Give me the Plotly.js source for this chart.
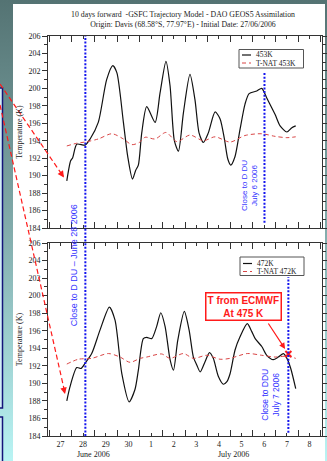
<!DOCTYPE html>
<html>
<head>
<meta charset="utf-8">
<script src="https://cdn.plot.ly/plotly-3.0.1.min.js"></script>
<style>
  html, body { margin: 0; padding: 0; }
  body { width: 327px; height: 461px; overflow: hidden;
         background: linear-gradient(to bottom, #547373 0%, #82acac 50%, #b9f4f4 100%); }
  #chart { width: 327px; height: 461px; }
</style>
</head>
<body>
<div id="chart"></div>
<script>
// ---- data (x = days since 27 June 2006 00:00) ----
const titleLine1 = "10 days forward  -GSFC Trajectory Model - DAO GEOS5 Assimilation";
const titleLine2 = "Origin: Davis (68.58°S, 77.97°E) - Initial Date: 27/06/2006";
const xTickLabels = ["27","28","29","30","1","2","3","4","5","6","7","8"];
const monthLabels = ["June 2006", "July 2006"];

const name453 = "453K";
const day453 = [0.78,0.95,1.04,1.22,1.59,1.81,2.17,2.54,2.81,2.99,3.28,3.47,3.68,3.82,3.94,4.09,4.31,4.68,4.90,5.16,5.34,5.53,5.71,5.93,6.22,6.44,6.62,6.81,7.03,7.33,7.55,7.74,7.89,8.02,8.21,8.43,8.65,8.83,9.17,9.39,9.61,9.98,10.20,10.50,10.72,10.89];
const temp453 = [189.4,191.7,192.05,193.6,193.5,194.2,196.1,201.0,202.6,201.8,196.1,192.2,189.6,190.6,191.2,194.9,197.9,196.1,199.5,203.1,200.3,194.0,192.8,197.2,201.6,198.7,194.9,193.8,194.9,197.3,196.5,194.2,191.9,191.2,192.2,195.3,198.2,199.4,199.7,200.0,198.9,197.0,195.7,195.0,195.5,195.7];

const nameNat453 = "T-NAT 453K";
const dayNat453 = [0.78,1.20,1.59,2.17,2.77,3.28,3.65,3.98,4.24,4.68,5.16,5.64,6.22,6.81,7.33,7.99,8.65,9.39,9.98,10.50,10.89];
const tempNat453 = [193.4,193.7,193.85,194.2,194.8,194.2,193.55,193.8,194.4,194.2,194.95,193.9,194.65,194.0,194.45,193.85,194.6,194.8,194.5,194.35,194.45];

const name472 = "472K";
const day472 = [0.78,0.92,1.22,1.41,1.59,1.88,2.25,2.66,2.91,3.21,3.53,3.79,3.94,4.16,4.31,4.53,4.75,4.93,5.12,5.34,5.49,5.68,5.97,6.18,6.37,6.52,6.67,6.89,7.08,7.25,7.47,7.69,7.85,7.99,8.21,8.43,8.75,8.95,9.10,9.39,9.61,9.90,10.12,10.35,10.50,10.67,10.89];
const temp472 = [188.0,189.6,191.8,191.7,192.3,193.4,196.1,198.7,197.2,191.1,187.9,189.3,191.5,195.1,195.25,195.1,196.5,198.05,196.5,192.7,191.5,194.9,198.2,196.1,193.0,192.1,191.3,192.5,193.5,192.85,190.8,189.9,190.2,191.1,193.8,195.3,196.8,195.9,195.1,194.2,193.2,192.7,193.0,193.4,192.85,191.7,189.4];

const nameNat472 = "T-NAT 472K";
const dayNat472 = [0.78,1.29,1.88,2.62,3.13,3.57,4.02,4.31,4.97,5.34,5.93,6.37,6.96,7.55,7.99,8.75,9.39,9.98,10.50,10.89];
const tempNat472 = [192.2,192.75,192.85,193.4,193.0,192.4,192.85,193.0,193.35,192.85,193.4,192.85,193.2,192.75,192.85,193.4,193.2,193.0,193.1,192.85];

const ecmwfDay = [10.565];
const ecmwfTemp = [193.35];
const ecmwfLabel = "<b>T from ECMWF</b><br><b>At 475 K</b>";

const dduDays = [1.60, 9.51, 10.565];
const dduLabels = ["Close to D DU – June 28 2006", "Close to D DU<br>July 6 2006", "Close to DDU<br>July 7 2006"];

// ---- styles ----
const SERIF = "Liberation Serif, Times New Roman, serif";
const SANS = "Liberation Sans, Arial, sans-serif";
const BLUE = "#1414ee";
const TBLUE = "#3434ff";
const RED = "#ff1a1a";
const NATRED = "#d94545";

const xr = [-0.05, 12.05];
const yr = [184, 206];
const majorVals = xTickLabels.map((_, i) => i + 0.5);
const minorVals = Array.from({length: 13}, (_, i) => i);

function xAxis(anchor, showLabels) {
  return {
    anchor: anchor, range: xr, showgrid: false, zeroline: false,
    showline: true, linecolor: "#333", linewidth: 1, mirror: "ticks",
    tickmode: "array", tickvals: majorVals, ticktext: xTickLabels,
    ticks: "inside", ticklen: 3, tickcolor: "#333", tickwidth: 1,
    minor: {tickmode: "array", tickvals: minorVals, ticks: "inside", ticklen: 6, tickcolor: "#333", tickwidth: 1},
    showticklabels: showLabels, ticklabelstandoff: 0,
    tickfont: {family: SERIF, size: 8, color: "#222"}
  };
}
function yAxis(domain, anchor) {
  return {
    domain: domain, anchor: anchor, range: yr, showgrid: false, zeroline: false,
    showline: true, linecolor: "#333", linewidth: 1, mirror: "ticks",
    tickmode: "linear", tick0: 184, dtick: 2,
    ticks: "outside", ticklen: 5, tickcolor: "#333", tickwidth: 1,
    minor: {dtick: 1, ticks: "outside", ticklen: 3, tickcolor: "#333", tickwidth: 1},
    tickfont: {family: SERIF, size: 8, color: "#222"},
    title: {text: "Temperature (K)", font: {family: SERIF, size: 8, color: "#222"}, standoff: 4}
  };
}

const traces = [
  {x: day453, y: temp453, name: name453, xaxis: "x", yaxis: "y", mode: "lines",
   line: {color: "#111", width: 1.2, shape: "spline", smoothing: 0.7}},
  {x: dayNat453, y: tempNat453, name: nameNat453, xaxis: "x", yaxis: "y", mode: "lines",
   line: {color: NATRED, width: 1, dash: "4px,3px", shape: "spline", smoothing: 0.8}},
  {x: day472, y: temp472, name: name472, xaxis: "x2", yaxis: "y2", mode: "lines",
   line: {color: "#111", width: 1.2, shape: "spline", smoothing: 0.7}},
  {x: dayNat472, y: tempNat472, name: nameNat472, xaxis: "x2", yaxis: "y2", mode: "lines",
   line: {color: NATRED, width: 1, dash: "4px,3px", shape: "spline", smoothing: 0.8}},
  {x: ecmwfDay, y: ecmwfTemp, name: "T from ECMWF", xaxis: "x2", yaxis: "y2", mode: "markers",
   marker: {symbol: "x-thin", size: 6, color: RED, line: {width: 2, color: RED}}}
];

// px -> paper helpers for decoration placement (plot area 48..322 x, 36..436 y)
const PX = p => (p - 48) / 274;
const PY = p => (436 - p) / 400;

const shapes = [
  // white sheet
  {type: "rect", xref: "paper", yref: "paper", x0: PX(13), x1: PX(325), y0: PY(470), y1: PY(4),
   fillcolor: "#ffffff", line: {width: 0}, layer: "below"},
  // left slide boxes
  {type: "rect", xref: "paper", yref: "paper", x0: PX(-10), x1: PX(2.5), y0: PY(408), y1: PY(88),
   fillcolor: "#d2eef6", line: {color: "#14147a", width: 1.5}, layer: "below"},
  {type: "rect", xref: "paper", yref: "paper", x0: PX(-10), x1: PX(2.5), y0: PY(480), y1: PY(417),
   fillcolor: "#d2eef6", line: {color: "#14147a", width: 1.5}, layer: "below"},
  // DDU passage lines
  {type: "line", xref: "x", yref: "paper", x0: dduDays[0], x1: dduDays[0], y0: 0, y1: 1,
   line: {color: BLUE, width: 2, dash: "2px,1.6px"}},
  {type: "line", xref: "x", yref: "paper", x0: dduDays[1], x1: dduDays[1], y0: PY(222.7), y1: PY(72.7),
   line: {color: BLUE, width: 2, dash: "2px,1.6px"}},
  {type: "line", xref: "x2", yref: "paper", x0: dduDays[2], x1: dduDays[2], y0: PY(432.7), y1: PY(277.3),
   line: {color: BLUE, width: 2, dash: "2px,1.6px"}},
  // red dashed pointers from the slide
  {type: "line", xref: "paper", yref: "paper", x0: PX(0), y0: PY(84), x1: PX(63), y1: PY(176),
   line: {color: RED, width: 1.2, dash: "5px,3px"}},
  {type: "line", xref: "paper", yref: "paper", x0: PX(0), y0: PY(105), x1: PX(64.5), y1: PY(391),
   line: {color: RED, width: 1.2, dash: "5px,3px"}},
  // legend boxes
  {type: "rect", xref: "paper", yref: "paper", x0: PX(239), x1: PX(303.5), y0: PY(68), y1: PY(49.5),
   fillcolor: "#ffffff", line: {color: "#555", width: 1}},
  {type: "rect", xref: "paper", yref: "paper", x0: PX(240), x1: PX(304), y0: PY(275.5), y1: PY(257),
   fillcolor: "#ffffff", line: {color: "#555", width: 1}},
  {type: "line", xref: "paper", yref: "paper", x0: PX(242), x1: PX(251), y0: PY(55), y1: PY(55),
   line: {color: "#111", width: 1.2}},
  {type: "line", xref: "paper", yref: "paper", x0: PX(242), x1: PX(251), y0: PY(63), y1: PY(63),
   line: {color: NATRED, width: 1, dash: "4px,3px"}},
  {type: "line", xref: "paper", yref: "paper", x0: PX(243), x1: PX(252), y0: PY(263.5), y1: PY(263.5),
   line: {color: "#111", width: 1.2}},
  {type: "line", xref: "paper", yref: "paper", x0: PX(243), x1: PX(252), y0: PY(271.5), y1: PY(271.5),
   line: {color: NATRED, width: 1, dash: "4px,3px"}}
];

const legFont = {family: SERIF, size: 7.5, color: "#222"};
function note(x, y, text, font, extra) {
  return Object.assign({xref: "paper", yref: "paper", x: x, y: y, text: text, showarrow: false,
                        xanchor: "center", yanchor: "middle", font: font}, extra || {});
}
const annotations = [
  // legends
  note(PX(254), PY(55), name453, legFont, {xanchor: "left"}),
  note(PX(254), PY(63), nameNat453, legFont, {xanchor: "left"}),
  note(PX(255), PY(263.5), name472, legFont, {xanchor: "left"}),
  note(PX(255), PY(271.5), nameNat472, legFont, {xanchor: "left"}),
  // DDU labels
  note(PX(74.3), PY(265), dduLabels[0], {family: SANS, size: 9, color: TBLUE}, {textangle: -90}),
  note(PX(248.8), PY(185.2), dduLabels[1], {family: SANS, size: 8, color: TBLUE}, {textangle: -90}),
  note(PX(269.7), PY(395), dduLabels[2], {family: SANS, size: 8.5, color: TBLUE}, {textangle: -90}),
  // ECMWF box
  note(PX(243), PY(306), ecmwfLabel, {family: SANS, size: 10, color: RED},
       {bgcolor: "#ffffff", bordercolor: RED, borderwidth: 1.5, borderpad: 1}),
  // arrow to the ECMWF point
  {xref: "x2", yref: "y2", x: ecmwfDay[0], y: ecmwfTemp[0], text: "", showarrow: true,
   ax: -21, ay: -32, arrowcolor: RED, arrowwidth: 1.2, arrowhead: 2, arrowsize: 1, standoff: 6},
  // arrow heads of the dashed pointers
  {xref: "paper", yref: "paper", x: PX(64), y: PY(177.5), text: "", showarrow: true,
   ax: -4.5, ay: -6.6, arrowcolor: RED, arrowwidth: 1.3, arrowhead: 2, arrowsize: 1},
  {xref: "paper", yref: "paper", x: PX(65), y: PY(394), text: "", showarrow: true,
   ax: -1.8, ay: -7.8, arrowcolor: RED, arrowwidth: 1.3, arrowhead: 2, arrowsize: 1},
  // month labels
  note(PX(93.5), PY(461), monthLabels[0], {family: SERIF, size: 8, color: "#222"}, {yanchor: "bottom"}),
  note(PX(233.5), PY(461), monthLabels[1], {family: SERIF, size: 8, color: "#222"}, {yanchor: "bottom"})
];

const layout = {
  width: 327, height: 461,
  margin: {l: 48, r: 5, t: 36, b: 25},
  paper_bgcolor: "rgba(0,0,0,0)", plot_bgcolor: "#ffffff",
  showlegend: false,
  title: {text: titleLine1 + "<br>" + titleLine2, font: {family: SERIF, size: 7.8, color: "#222"},
          x: PX(183), xref: "paper", xanchor: "center", y: 1 - 17 / 461, yref: "container", yanchor: "middle"},
  xaxis: xAxis("y", false),
  yaxis: yAxis([0.52, 1], "x"),
  xaxis2: xAxis("y2", true),
  yaxis2: yAxis([0, 0.4825], "x2"),
  shapes: shapes,
  annotations: annotations
};

Plotly.newPlot("chart", traces, layout, {displayModeBar: false, staticPlot: true});
</script>
</body>
</html>
